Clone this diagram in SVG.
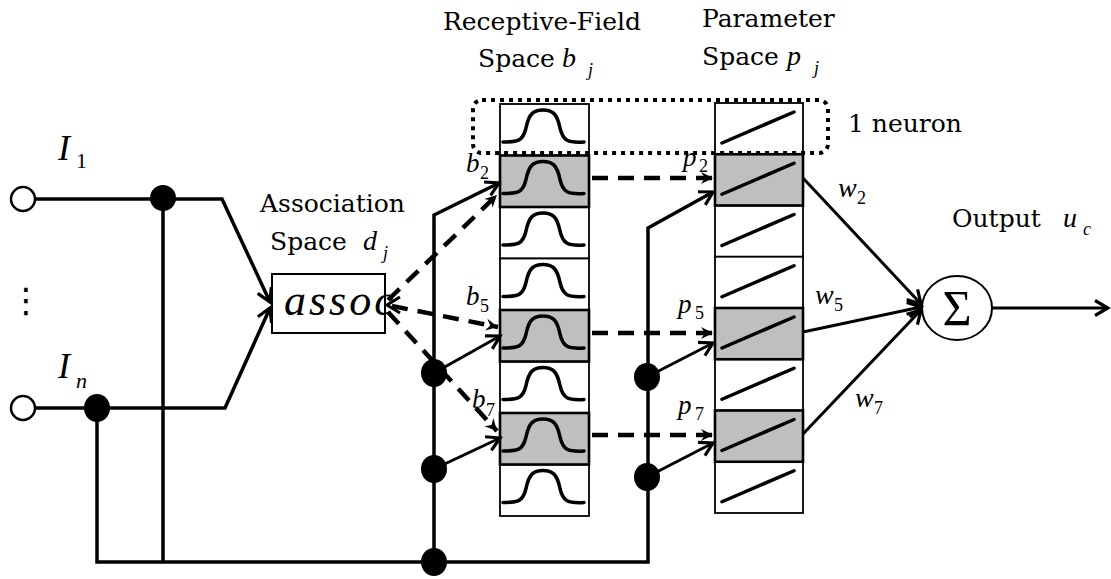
<svg xmlns="http://www.w3.org/2000/svg" xmlns:xlink="http://www.w3.org/1999/xlink" width="1111" height="579" viewBox="0 0 1111 579">
<style>
.t{font-family:"DejaVu Serif","Liberation Serif",serif;font-size:25px;fill:#000}
.m{font-family:"Liberation Serif","Times New Roman",serif;font-style:italic;fill:#000}
.s{font-family:"Liberation Serif","Times New Roman",serif;fill:#000}
.w{fill:none;stroke:#000;stroke-width:3.5;stroke-linejoin:miter}
.a{fill:none;stroke:#000;stroke-width:3}
.d{fill:none;stroke:#000;stroke-width:4.5;stroke-dasharray:16 10}
.bx{fill:#fff;stroke:#000;stroke-width:1.8}
.gb{fill:#bfbfbf;stroke:#000;stroke-width:2.6}
.cv{fill:none;stroke:#000;stroke-width:3.5;stroke-linecap:round}
.dot{fill:#000}
</style>
<defs>
<marker id="ah" viewBox="-16 -10 18 20" markerWidth="18" markerHeight="20" refX="0" refY="0" orient="auto" markerUnits="userSpaceOnUse" overflow="visible">
<path d="M-13,-7.5 L0,0 L-13,7.5" fill="none" stroke="#000" stroke-width="3.2"/>
</marker>
<marker id="dh" viewBox="-13 -7 15 14" markerWidth="15" markerHeight="14" refX="0" refY="0" orient="auto" markerUnits="userSpaceOnUse" overflow="visible">
<path d="M-12,-6 L0,0 L-12,6 L-8,0 z" fill="#000"/>
</marker>
<path id="gauss" class="cv" d="M503,38 C518,38 523,37 526,24 C529,9 534,6 543,6 C552,6 557,9 560,24 C563,37 568,39 584,38"/>
<path id="slant" class="cv" d="M722,40 L794,9"/>
</defs>

<g id="titles">
<text class="t" x="443" y="30">Receptive-Field</text>
<text class="t" x="478" y="67">Space</text>
<text class="m" x="562" y="67" font-size="28">b</text>
<text class="m" x="588" y="76" font-size="18">j</text>
<text class="t" x="702" y="27">Parameter</text>
<text class="t" x="702" y="65">Space</text>
<text class="m" x="787" y="65" font-size="28">p</text>
<text class="m" x="814" y="74" font-size="18">j</text>
<text class="t" x="848" y="132">1 neuron</text>
</g>

<g id="inputs">
<circle cx="23" cy="199" r="12" fill="#fff" stroke="#000" stroke-width="2.5"/>
<circle cx="23" cy="408" r="12" fill="#fff" stroke="#000" stroke-width="2.5"/>
<text class="m" x="58" y="160" font-size="36">I</text>
<text class="s" x="76" y="168" font-size="22">1</text>
<text class="m" x="58" y="378" font-size="36">I</text>
<text class="m" x="76" y="388" font-size="22">n</text>
<text x="26" y="312" font-size="34" text-anchor="middle" font-family="'DejaVu Sans', sans-serif" fill="#000">⋮</text>
</g>

<g id="assoc">
<text class="t" x="260" y="212">Association</text>
<text class="t" x="270" y="250">Space</text>
<text class="m" x="363" y="250" font-size="28">d</text>
<text class="m" x="383" y="259" font-size="18">j</text>
<rect x="272" y="274" width="113" height="59" fill="#fff" stroke="#000" stroke-width="2"/>
<text class="m" x="284" y="315" font-size="44" letter-spacing="3">assoc</text>
</g>

<g id="receptive">
<rect class="bx" x="500" y="104" width="89" height="51.5"/>
<rect class="bx" x="500" y="207" width="89" height="51.5"/>
<rect class="bx" x="500" y="258.5" width="89" height="51.5"/>
<rect class="bx" x="500" y="361.5" width="89" height="51.5"/>
<rect class="bx" x="500" y="464.5" width="89" height="51.5"/>
<rect class="gb" x="500" y="155.5" width="89" height="51.5"/>
<rect class="gb" x="500" y="310" width="89" height="51.5"/>
<rect class="gb" x="500" y="413" width="89" height="51.5"/>
<use xlink:href="#gauss" transform="translate(0,104)"/>
<use xlink:href="#gauss" transform="translate(0,155.5)"/>
<use xlink:href="#gauss" transform="translate(0,207)"/>
<use xlink:href="#gauss" transform="translate(0,258.5)"/>
<use xlink:href="#gauss" transform="translate(0,310)"/>
<use xlink:href="#gauss" transform="translate(0,361.5)"/>
<use xlink:href="#gauss" transform="translate(0,413)"/>
<use xlink:href="#gauss" transform="translate(0,464.5)"/>
<text class="m" x="466" y="172" font-size="27">b</text>
<text class="s" x="480" y="179" font-size="18">2</text>
<text class="m" x="466" y="305" font-size="27">b</text>
<text class="s" x="480" y="312" font-size="18">5</text>
<text class="m" x="472" y="408" font-size="27">b</text>
<text class="s" x="486" y="416" font-size="18">7</text>
</g>

<g id="parameter">
<rect class="bx" x="715" y="103" width="88" height="51.25"/>
<rect class="bx" x="715" y="205.5" width="88" height="51.25"/>
<rect class="bx" x="715" y="256.75" width="88" height="51.25"/>
<rect class="bx" x="715" y="359.25" width="88" height="51.25"/>
<rect class="bx" x="715" y="461.75" width="88" height="51.25"/>
<rect class="gb" x="715" y="154.25" width="88" height="51.25"/>
<rect class="gb" x="715" y="308" width="88" height="51.25"/>
<rect class="gb" x="715" y="410.5" width="88" height="51.25"/>
<use xlink:href="#slant" transform="translate(0,103)"/>
<use xlink:href="#slant" transform="translate(0,154.25)"/>
<use xlink:href="#slant" transform="translate(0,205.5)"/>
<use xlink:href="#slant" transform="translate(0,256.75)"/>
<use xlink:href="#slant" transform="translate(0,308)"/>
<use xlink:href="#slant" transform="translate(0,359.25)"/>
<use xlink:href="#slant" transform="translate(0,410.5)"/>
<use xlink:href="#slant" transform="translate(0,461.75)"/>
<text class="m" x="683" y="166" font-size="27">p</text>
<text class="s" x="699" y="172" font-size="18">2</text>
<text class="m" x="678" y="313" font-size="27">p</text>
<text class="s" x="695" y="319" font-size="18">5</text>
<text class="m" x="678" y="414" font-size="27">p</text>
<text class="s" x="695" y="420" font-size="18">7</text>
</g>

<g id="neuron">
<rect x="473" y="100" width="355" height="53" rx="9" fill="none" stroke="#000" stroke-width="4" stroke-dasharray="4 5"/>
</g>

<g id="sum">
<ellipse cx="957" cy="308" rx="35" ry="32" fill="#fff" stroke="#000" stroke-width="2"/>
<text class="s" x="957" y="325" font-size="50" text-anchor="middle">Σ</text>
<text class="t" x="952" y="227">Output</text>
<text class="m" x="1063" y="227" font-size="28">u</text>
<text class="m" x="1083" y="235" font-size="18">c</text>
<text class="m" x="838" y="197" font-size="28">w</text>
<text class="s" x="857" y="204" font-size="18">2</text>
<text class="m" x="815" y="304" font-size="28">w</text>
<text class="s" x="834" y="311" font-size="18">5</text>
<text class="m" x="855" y="407" font-size="28">w</text>
<text class="s" x="874" y="414" font-size="18">7</text>
</g>

<g id="connectors">
<path class="w" d="M35,199 H222 L270,302" marker-end="url(#ah)"/>
<path class="w" d="M35,408 H225 L270,308" marker-end="url(#ah)"/>
<path class="w" d="M163,199 V562"/>
<path class="w" d="M97,408 V562 H648 V228 L713,192" marker-end="url(#ah)"/>
<path class="w" d="M434,562 V215 L499,183" marker-end="url(#ah)"/>
<path class="a" d="M434,373 L500,336" marker-end="url(#ah)"/>
<path class="a" d="M434,469 L500,438" marker-end="url(#ah)"/>
<path class="a" d="M647,377 L713,343" marker-end="url(#ah)"/>
<path class="a" d="M647,477 L713,443" marker-end="url(#ah)"/>
<path class="d" d="M388,300 L497,195" marker-end="url(#dh)"/>
<path class="d" d="M392,306 L498,327" marker-end="url(#dh)"/>
<path class="d" d="M388,312 L497,431" marker-end="url(#dh)"/>
<path class="a" d="M400,297 L387,305 L400,313"/>
<path class="d" d="M592,178 H713" marker-end="url(#dh)"/>
<path class="d" d="M592,333 H713" marker-end="url(#dh)"/>
<path class="d" d="M592,435 H713" marker-end="url(#dh)"/>
<path class="a" d="M803,178 L921,304" marker-end="url(#ah)"/>
<path class="a" d="M803,332 L921,307" marker-end="url(#ah)"/>
<path class="a" d="M803,434 L921,310" marker-end="url(#ah)"/>
<path class="a" d="M992,308 H1108" marker-end="url(#ah)"/>
<circle class="dot" cx="163" cy="198" r="13"/>
<ellipse class="dot" cx="97" cy="408" rx="13" ry="14"/>
<ellipse class="dot" cx="434" cy="373" rx="13" ry="14"/>
<ellipse class="dot" cx="434" cy="469" rx="13" ry="14"/>
<ellipse class="dot" cx="434" cy="562" rx="13" ry="14"/>
<ellipse class="dot" cx="647" cy="377" rx="13" ry="14"/>
<ellipse class="dot" cx="647" cy="477" rx="13" ry="14"/>
</g>
</svg>
